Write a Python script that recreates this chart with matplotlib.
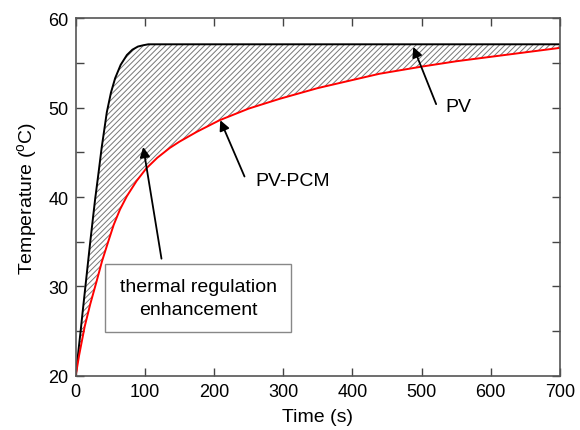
import matplotlib.pyplot as plt
from matplotlib.ticker import MultipleLocator
import numpy as np

plt.rcParams['font.family'] = ['Liberation Sans', 'DejaVu Sans']
plt.rcParams['mathtext.fontset'] = 'custom'
plt.rcParams['mathtext.rm'] = 'Liberation Sans'
plt.rcParams['hatch.linewidth'] = 0.7

# PV (black) curve
t_pv = [0, 4, 7, 10, 13.5, 17, 20.5, 24, 28, 33, 37.5, 45, 51, 57, 65, 74, 82, 90, 98, 105, 200, 300, 400, 500, 600, 700]
T_pv = [20, 22.8, 24.9, 27.1, 29.6, 32.1, 34.6, 37.0, 39.7, 42.7, 45.5, 49.5, 51.7, 53.3, 54.8, 55.9, 56.5, 56.85, 57.0, 57.1,
        57.1, 57.1, 57.1, 57.1, 57.1, 57.1]

# PV-PCM (red) curve
t_pcm = [0, 5, 13, 21, 30, 38, 47, 55, 64, 74, 88, 102, 118, 136, 150, 175, 208, 250, 295, 350, 400, 439,
         500, 550, 600, 650, 700]
T_pcm = [20, 22.3, 25.5, 28.0, 30.5, 32.8, 35, 36.9, 38.6, 40.1, 41.8, 43.2, 44.4, 45.5, 46.2, 47.3, 48.6,
         49.9, 51.0, 52.2, 53.1, 53.8, 54.6, 55.2, 55.7, 56.2, 56.7]

fig = plt.figure(figsize=(5.8, 4.31), dpi=100)
ax = fig.add_axes([0.1305, 0.126, 0.835, 0.829])

# hatched region between the two curves
ax.fill(np.concatenate([t_pv, t_pcm[::-1]]), np.concatenate([T_pv, T_pcm[::-1]]),
        facecolor='none', edgecolor='#777777', hatch='//////', linewidth=0)

ax.plot(t_pv, T_pv, color='black', lw=1.4)
ax.plot(t_pcm, T_pcm, color='red', lw=1.4)

ax.set_xlim(0, 700)
ax.set_ylim(20, 60)
ax.xaxis.set_major_locator(MultipleLocator(100))
ax.yaxis.set_major_locator(MultipleLocator(10))
ax.yaxis.set_minor_locator(MultipleLocator(5))
ax.tick_params(which='both', direction='in', top=True, right=True, labelsize=13,
               color='#444444', width=1.0, pad=5)
ax.tick_params(which='major', length=6)
ax.tick_params(which='minor', length=6)
for s in ax.spines.values():
    s.set_color('#555555')
    s.set_linewidth(1.2)

ax.set_xlabel('Time (s)', fontsize=14, labelpad=6)
ax.set_ylabel(r'Temperature ($^\mathrm{o}$C)', fontsize=14, labelpad=6)

arrow = dict(arrowstyle='-|>', color='black', lw=1.3, mutation_scale=15, shrinkA=0, shrinkB=0)
ax.annotate('', xy=(488, 56.8), xytext=(521, 50.4), arrowprops=arrow)
ax.text(553, 50.1, 'PV', fontsize=14, ha='center', va='center')

ax.annotate('', xy=(209, 48.6), xytext=(244, 42.3), arrowprops=arrow)
ax.text(313, 41.9, 'PV-PCM', fontsize=14, ha='center', va='center')

ax.annotate('', xy=(97.6, 45.6), xytext=(124, 33.1), arrowprops=arrow)
ax.text(177, 28.7, 'thermal regulation\nenhancement', fontsize=14, ha='center', va='center',
        linespacing=1.4,
        bbox=dict(boxstyle='square,pad=0.75', facecolor='white', edgecolor='#888888', lw=1.0))

fig.savefig('out.png', dpi=100)
